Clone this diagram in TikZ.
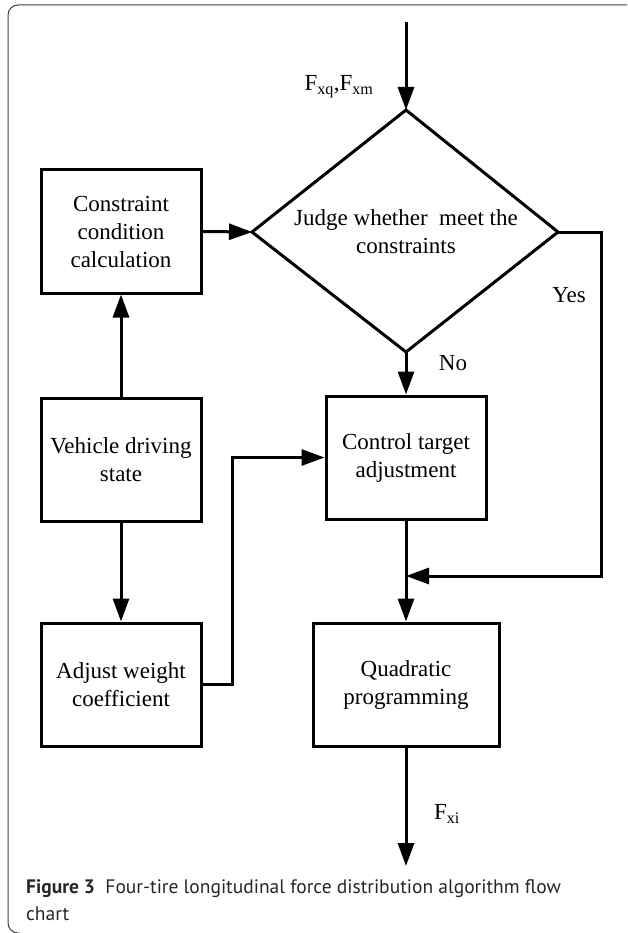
\documentclass[tikz,border=0pt]{standalone}
\usepackage{fontspec}
\setmainfont{Liberation Serif}
\newfontfamily\capfont{PT Sans}
\usetikzlibrary{arrows.meta}
\begin{document}
\begin{tikzpicture}[x=1pt,y=-1pt,
  box/.style={draw,line width=3pt,minimum width=160pt,minimum height=123pt,align=center,font=\fontsize{23}{28}\selectfont,inner sep=0pt},
  lbl/.style={font=\fontsize{23}{28}\selectfont,inner sep=0pt},
  conn/.style={line width=3pt,-{Triangle[length=23pt,width=16pt]}},
  ln/.style={line width=3pt},
  frame/.style={line width=1pt,draw=black!75,rounded corners=10pt},
  captext/.style={anchor=base west,inner sep=0pt,text=black!85,font=\capfont\fontsize{19.5}{27}\selectfont}]
\useasboundingbox (0,0) rectangle (627,933);
\draw[frame] (627,5) -- (8,5) -- (8,933) -- (20,933);
% boxes
\node[box] (cc) at (121,231.5) {Constraint\\condition\\calculation};
\node[box] (vd) at (121,459.5) {Vehicle driving\\state};
\node[box] (aw) at (121,684.5) {Adjust weight\\coefficient};
\node[box] (ct) at (406,457.5) {Control target\\adjustment};
\node[box,minimum width=186pt] (qp) at (406,684.5) {Quadratic\\programming};
% decision
\coordinate (dt) at (406,110);
\coordinate (dl) at (252,232);
\coordinate (dr) at (558,232);
\coordinate (db) at (406,352);
\draw[ln,line join=miter] (dt) -- (dr) -- (db) -- (dl) -- cycle;
\node[lbl,align=center] (dj) at (406,232) {Judge whether\ \ meet the\\constraints};
% free ends
\coordinate (in) at (406,22);
\coordinate (out) at (406,866);
\coordinate (m) at (406,576);
% connectors
\draw[conn] (in) -- (dt);
\draw[conn] (cc.east) -- (dl);
\draw[conn] (vd.north) -- (cc.south);
\draw[conn] (vd.south) -- (aw.north);
\draw[conn,line join=miter] (aw.east) -- ++(30,0) |- (ct.west);
\draw[conn] (db) -- (ct.north);
\draw[ln] (ct.south) -- (m);
\draw[conn] (m) -- (qp.north);
\draw[conn,line join=miter] (dr) -- ++(43,0) |- (m);
\draw[conn] (qp.south) -- (out);
% labels
\node[lbl] (fin) at (339,87) {F\textsubscript{xq},F\textsubscript{xm}};
\node[lbl] (yes) at (569,295) {Yes};
\node[lbl] (no) at (453,363) {No};
\node[lbl] (fout) at (447,814) {F\textsubscript{xi}};
% caption
\node[captext] (cap1) at (26,893) {\textbf{Figure 3}\ \ Four-tire longitudinal force distribution algorithm flow};
\node[captext] (cap2) at (26,920) {chart};
\end{tikzpicture}
\end{document}
